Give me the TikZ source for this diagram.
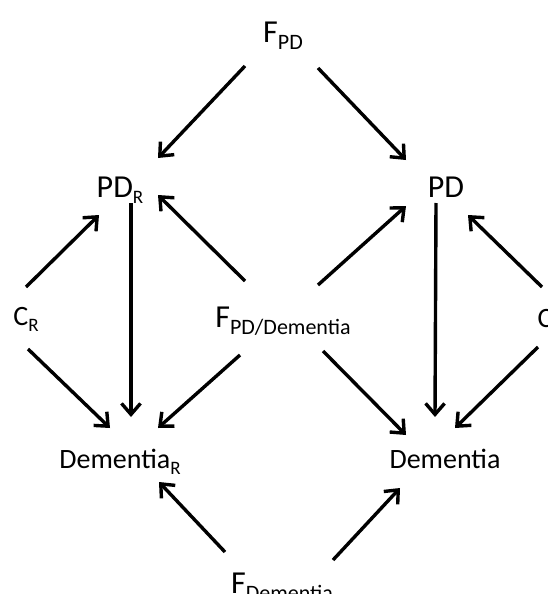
\documentclass[tikz,border=0pt]{standalone}
\usepackage{fontspec}
\setmainfont{Carlito}
\usetikzlibrary{arrows.meta}

\newcommand{\lowbig}[1]{\raisebox{-7pt}{\fontsize{22}{24}\selectfont #1}}
\newcommand{\lowsmall}[1]{\raisebox{-6pt}{\fontsize{19}{20}\selectfont #1}}

\tikzset{
  every var/.style={inner sep=0pt, anchor=base},
  big var/.style={font=\fontsize{32}{36}\selectfont},
  small var/.style={font=\fontsize{28}{32}\selectfont},
  arr/.style={line width=3.4pt, -{Straight Barb[length=11pt,width=19pt]}}
}

\begin{document}
\begin{tikzpicture}[x=1pt, y=-1pt]

\useasboundingbox (0,0) rectangle (547,594);

% variables
\node [every var/.try, big var] (f-pd) at (283,43) {F\lowbig{PD}};
\node [every var/.try, big var] (pd-r) at (120,197) {PD\lowsmall{R}};
\node [every var/.try, big var] (pd) at (446,197) {PD};
\node [every var/.try, small var] (c-r) at (26,325) {C\lowsmall{R}};
\node [every var/.try, big var] (f-both) at (283,327) {F\lowbig{PD/Dementia}};
\node [every var/.try, small var] (c) at (545,327) {C};
\node [every var/.try, small var] (dem-r) at (120,468) {Dementia\lowsmall{R}};
\node [every var/.try, small var] (dem) at (445,468) {Dementia};
\node [every var/.try, big var] (f-dem) at (282,593) {F\lowbig{Dementia}};

% arrows
\foreach \a/\ax/\ay/\b/\bx/\by in {
    f-pd/-38/23/pd-r/38/-39, f-pd/35/25/pd/-40/-37,
    c-r/0/-38/pd-r/-21/18, f-both/-38/-46/pd-r/38/-2,
    f-both/35/-42/pd/-40/9, c/-3/-40/pd/22/18,
    pd-r/11/6/dem-r/11/-51, pd/-10/6/dem/-10/-51,
    c-r/2/24/dem-r/-10/-40, f-both/-43/28/dem-r/38/-40,
    f-both/40/24/dem/-39/-33, c/-7/20/dem/10/-40,
    f-dem/-57/-41/dem-r/39/14, f-dem/51/-33/dem/-45/20}
  \draw [arr] ([shift={(\ax,\ay)}]\a.base) -- ([shift={(\bx,\by)}]\b.base);

\end{tikzpicture}
\end{document}
